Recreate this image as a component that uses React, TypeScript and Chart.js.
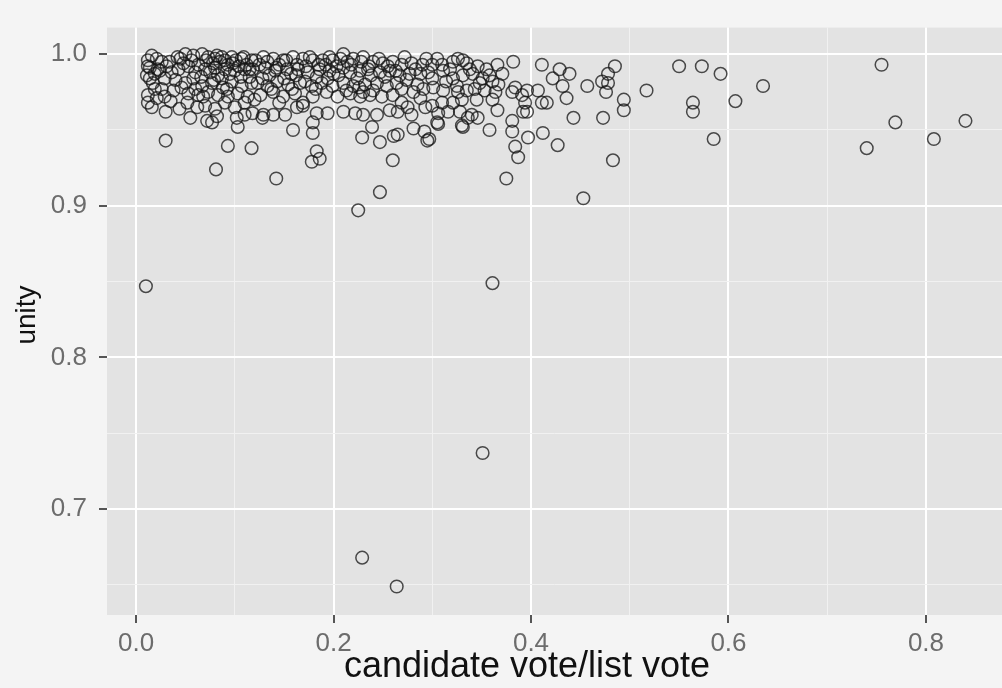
import React, { useEffect, useRef } from "react";
import { Chart, registerables } from "chart.js";

Chart.register(...registerables);

// Axis breaks (major carry labels, minor only get a light grid line)
const xTicks = [0, 0.2, 0.4, 0.6, 0.8];
const xMinor = [0.1, 0.3, 0.5, 0.7];
const yTicks = [0.7, 0.8, 0.9, 1.0];
const yMinor = [0.65, 0.75, 0.85, 0.95];
const xRange = [-0.0294, 0.877];
const yRange = [0.6302, 1.0175];
const xTitle = "candidate vote/list vote";
const yTitle = "unity";

// candidate vote / list vote  vs  unity
const leftCluster: [number, number][] = [
  [0.012, 0.996], [0.021, 0.997], [0.026, 0.995], [0.014, 0.991], [0.022, 0.99],
  [0.031, 0.992], [0.011, 0.986], [0.019, 0.987], [0.029, 0.984], [0.017, 0.981],
  [0.026, 0.977], [0.012, 0.973], [0.021, 0.971], [0.029, 0.972], [0.012, 0.968],
  [0.016, 0.965], [0.014, 0.984], [0.024, 0.989], [0.012, 0.992], [0.04, 0.983],
  [0.035, 0.969], [0.038, 0.976], [0.044, 0.964], [0.019, 0.977], [0.03, 0.962],
  [0.016, 0.999], [0.034, 0.995], [0.036, 0.988], [0.046, 0.978],
];

const coreCluster: [number, number][] = [
  [0.042, 0.998], [0.05, 1.0], [0.067, 1.0], [0.073, 0.998], [0.08, 0.997],
  [0.087, 0.998], [0.097, 0.998], [0.107, 0.997], [0.117, 0.996], [0.043, 0.99],
  [0.053, 0.992], [0.06, 0.988], [0.07, 0.99], [0.08, 0.991], [0.09, 0.99],
  [0.1, 0.989], [0.11, 0.99], [0.05, 0.981], [0.058, 0.984], [0.067, 0.979],
  [0.077, 0.981], [0.087, 0.984], [0.097, 0.982], [0.107, 0.979], [0.117, 0.981],
  [0.053, 0.974], [0.063, 0.973], [0.073, 0.975], [0.083, 0.973], [0.093, 0.972],
  [0.103, 0.974], [0.113, 0.972], [0.052, 0.968], [0.062, 0.965], [0.07, 0.966],
  [0.08, 0.964], [0.09, 0.968], [0.1, 0.965], [0.11, 0.968], [0.118, 0.961],
  [0.055, 0.958], [0.072, 0.956], [0.077, 0.955], [0.082, 0.959], [0.102, 0.958],
  [0.103, 0.952], [0.11, 0.96], [0.128, 0.958], [0.139, 0.96],
  [0.048, 0.994], [0.056, 0.996], [0.063, 0.993], [0.078, 0.994], [0.085, 0.995],
  [0.093, 0.993], [0.101, 0.996], [0.104, 0.992], [0.095, 0.987], [0.083, 0.986],
  [0.066, 0.985], [0.075, 0.988], [0.106, 0.985], [0.112, 0.993], [0.125, 0.993],
  [0.135, 0.986], [0.145, 0.993], [0.157, 0.987], [0.172, 0.992], [0.183, 0.985],
  [0.192, 0.993], [0.205, 0.986], [0.214, 0.995], [0.224, 0.984], [0.238, 0.986],
  [0.213, 0.976], [0.23, 0.975], [0.158, 0.977], [0.145, 0.968], [0.12, 0.97],
  [0.088, 0.978], [0.06, 0.977],
  [0.045, 0.997], [0.058, 0.999], [0.071, 0.996], [0.082, 0.999], [0.09, 0.996],
  [0.098, 0.994], [0.109, 0.998], [0.115, 0.99], [0.068, 0.972], [0.079, 0.983],
  [0.092, 0.977], [0.115, 0.985],
];

const midCluster: [number, number][] = [
  [0.121, 0.996], [0.129, 0.998], [0.139, 0.997], [0.149, 0.996], [0.159, 0.998],
  [0.169, 0.997], [0.179, 0.996], [0.189, 0.996], [0.199, 0.996], [0.21, 1.0],
  [0.22, 0.997], [0.23, 0.998], [0.24, 0.995], [0.25, 0.994], [0.26, 0.995],
  [0.118, 0.99], [0.131, 0.991], [0.141, 0.989], [0.153, 0.99], [0.164, 0.99],
  [0.174, 0.988], [0.186, 0.99], [0.196, 0.989], [0.21, 0.991], [0.217, 0.988],
  [0.227, 0.989], [0.235, 0.99], [0.247, 0.988], [0.257, 0.989], [0.123, 0.981],
  [0.133, 0.979], [0.143, 0.982], [0.154, 0.98], [0.166, 0.981], [0.178, 0.979],
  [0.188, 0.981], [0.199, 0.979], [0.21, 0.981], [0.22, 0.979], [0.232, 0.98],
  [0.244, 0.981], [0.254, 0.979], [0.264, 0.981], [0.126, 0.973], [0.139, 0.975],
  [0.149, 0.972], [0.161, 0.974], [0.169, 0.968], [0.179, 0.972], [0.193, 0.975],
  [0.204, 0.972], [0.217, 0.974], [0.227, 0.972], [0.237, 0.973], [0.249, 0.972],
  [0.26, 0.973], [0.129, 0.96], [0.151, 0.96], [0.163, 0.965], [0.169, 0.966],
  [0.222, 0.961], [0.23, 0.96], [0.244, 0.96], [0.257, 0.963],
  [0.133, 0.995], [0.142, 0.991], [0.152, 0.996], [0.163, 0.993], [0.176, 0.998],
  [0.185, 0.993], [0.196, 0.998], [0.203, 0.992], [0.207, 0.997], [0.218, 0.993],
  [0.228, 0.995], [0.236, 0.992], [0.246, 0.997], [0.255, 0.992], [0.128, 0.984],
  [0.137, 0.977], [0.15, 0.984], [0.162, 0.986], [0.171, 0.982], [0.182, 0.977],
  [0.194, 0.984], [0.2, 0.987], [0.226, 0.978], [0.24, 0.976], [0.252, 0.985],
];

const rightCluster: [number, number][] = [
  [0.269, 0.993], [0.279, 0.994], [0.29, 0.993], [0.3, 0.993], [0.321, 0.995],
  [0.335, 0.994], [0.346, 0.992], [0.355, 0.99], [0.267, 0.986], [0.277, 0.987],
  [0.288, 0.987], [0.3, 0.984], [0.311, 0.989], [0.321, 0.984], [0.331, 0.986],
  [0.341, 0.987], [0.351, 0.984], [0.361, 0.982], [0.367, 0.98], [0.384, 0.978],
  [0.396, 0.976], [0.407, 0.976], [0.269, 0.977], [0.281, 0.975], [0.291, 0.977],
  [0.301, 0.978], [0.311, 0.976], [0.325, 0.979], [0.335, 0.976], [0.343, 0.977],
  [0.353, 0.976], [0.364, 0.975], [0.381, 0.975], [0.391, 0.973], [0.394, 0.968],
  [0.411, 0.968], [0.269, 0.968], [0.275, 0.965], [0.288, 0.971], [0.3, 0.966],
  [0.31, 0.968], [0.321, 0.968], [0.33, 0.97], [0.345, 0.97], [0.361, 0.97],
  [0.265, 0.962], [0.279, 0.96], [0.293, 0.965], [0.306, 0.961], [0.316, 0.962],
  [0.328, 0.962], [0.34, 0.96], [0.392, 0.962], [0.305, 0.955], [0.265, 0.947],
  [0.263, 0.989], [0.272, 0.998], [0.283, 0.99], [0.294, 0.997], [0.31, 0.993],
  [0.318, 0.99], [0.326, 0.997], [0.338, 0.99], [0.274, 0.983], [0.285, 0.98],
  [0.296, 0.988], [0.314, 0.982], [0.326, 0.975], [0.348, 0.981], [0.358, 0.986],
];

const scattered: [number, number][] = [
  [0.03, 0.943], [0.093, 0.9395], [0.117, 0.938], [0.081, 0.924], [0.142, 0.918],
  [0.159, 0.95], [0.179, 0.955], [0.179, 0.948], [0.183, 0.936], [0.178, 0.929],
  [0.186, 0.931], [0.194, 0.961], [0.21, 0.962], [0.183, 0.961], [0.225, 0.897],
  [0.247, 0.909], [0.26, 0.93], [0.229, 0.945], [0.247, 0.942], [0.261, 0.946],
  [0.239, 0.952], [0.281, 0.951], [0.292, 0.949], [0.297, 0.944], [0.295, 0.943],
  [0.306, 0.954], [0.33, 0.953], [0.331, 0.952], [0.346, 0.958], [0.336, 0.958],
  [0.358, 0.95], [0.366, 0.963], [0.381, 0.956], [0.381, 0.949], [0.384, 0.939],
  [0.387, 0.932], [0.375, 0.918], [0.397, 0.945], [0.412, 0.948], [0.427, 0.94],
  [0.396, 0.962], [0.416, 0.968], [0.443, 0.958], [0.436, 0.971], [0.305, 0.997],
  [0.331, 0.996], [0.382, 0.995], [0.411, 0.993], [0.429, 0.99], [0.439, 0.987],
  [0.422, 0.984], [0.432, 0.979], [0.366, 0.993], [0.371, 0.987], [0.485, 0.992],
  [0.478, 0.987], [0.472, 0.982], [0.478, 0.981], [0.476, 0.975], [0.457, 0.979],
  [0.494, 0.97], [0.494, 0.963], [0.517, 0.976], [0.55, 0.992], [0.573, 0.992],
  [0.592, 0.987], [0.564, 0.968], [0.564, 0.962], [0.607, 0.969], [0.635, 0.979],
  [0.473, 0.958], [0.585, 0.944], [0.483, 0.93], [0.453, 0.905], [0.755, 0.993],
  [0.769, 0.955], [0.74, 0.938], [0.808, 0.944], [0.84, 0.956],
];

const outliers: [number, number][] = [
  [0.01, 0.847], [0.361, 0.849], [0.351, 0.737], [0.229, 0.668], [0.264, 0.649],
];

const allPoints = [
  ...leftCluster,
  ...coreCluster,
  ...midCluster,
  ...rightCluster,
  ...scattered,
  ...outliers,
].map(([x, y]) => ({ x, y }));

const PANEL_BG = "#e3e3e3";
const PAGE_BG = "#f4f4f4";
const TICK_TEXT = "#6c6c6c";
const TITLE_TEXT = "#111111";
const FONT = "'Liberation Sans', Arial, Helvetica, sans-serif";

const panelBackground = {
  id: "panelBackground",
  beforeDraw(chart: any) {
    const { ctx, chartArea } = chart;
    if (!chartArea) return;
    ctx.save();
    ctx.fillStyle = PANEL_BG;
    ctx.fillRect(chartArea.left, chartArea.top, chartArea.right - chartArea.left, chartArea.bottom - chartArea.top);
    ctx.restore();
  },
};

// Axis captions: x centred under the 0.4 break, y rotated beside the panel
const axisCaptions = {
  id: "axisCaptions",
  afterDraw(chart: any) {
    const { ctx } = chart;
    const x = chart.scales.x.getPixelForValue(0.4) - 4;
    ctx.save();
    ctx.fillStyle = TITLE_TEXT;
    ctx.textAlign = "center";
    ctx.textBaseline = "alphabetic";
    ctx.font = `36px ${FONT}`;
    ctx.fillText(xTitle, x, 677);
    ctx.translate(35, chart.scales.y.getPixelForValue(0.828));
    ctx.rotate(-Math.PI / 2);
    ctx.font = `28px ${FONT}`;
    ctx.fillText(yTitle, 0, 0);
    ctx.restore();
  },
};

function isMajor(list: number[], v: number) {
  return list.some((t) => Math.abs(t - v) < 1e-9);
}

function axisOptions(major: number[], minor: number[], range: number[], horizontal: boolean) {
  return {
    type: "linear" as const,
    min: range[0],
    max: range[1],
    afterBuildTicks(scale: any) {
      scale.ticks = [...major, ...minor].sort((a, b) => a - b).map((value) => ({ value }));
    },
    afterFit(scale: any) {
      if (horizontal) scale.height = 73;
      else scale.width = 107;
    },
    border: { display: false },
    grid: {
      drawTicks: true,
      tickLength: 8,
      color: (ctx: any) => (isMajor(major, ctx.tick?.value) ? "#ffffff" : "#f1f1f1"),
      lineWidth: (ctx: any) => (isMajor(major, ctx.tick?.value) ? 2 : 1),
      tickColor: (ctx: any) => (isMajor(major, ctx.tick?.value) ? "#555555" : "rgba(0,0,0,0)"),
      tickWidth: 2,
    },
    ticks: {
      autoSkip: false,
      maxRotation: 0,
      padding: horizontal ? 5 : 12,
      color: TICK_TEXT,
      font: { family: FONT, size: 26 },
      callback: (value: number) => (isMajor(major, value) ? value.toFixed(1) : ""),
    },
    title: { display: false },
  };
}

export default function App() {
  const canvasRef = useRef<HTMLCanvasElement | null>(null);

  useEffect(() => {
    if (!canvasRef.current) return;
    const chart = new Chart(canvasRef.current, {
      type: "scatter",
      data: {
        datasets: [
          {
            data: allPoints,
            pointStyle: "circle",
            pointRadius: 6.3,
            pointBorderWidth: 1.5,
            pointBackgroundColor: "rgba(0,0,0,0)",
            pointBorderColor: "rgba(20,20,20,0.75)",
          },
        ],
      },
      options: {
        responsive: false,
        animation: false,
        layout: { autoPadding: false, padding: { left: 0, right: 0, top: 10, bottom: 0 } },
        plugins: {
          legend: { display: false },
          tooltip: { enabled: false },
        },
        scales: {
          x: axisOptions(xTicks, xMinor, xRange, true),
          y: axisOptions(yTicks, yMinor, yRange, false),
        },
      },
      plugins: [panelBackground, axisCaptions],
    });
    return () => chart.destroy();
  }, []);

  return (
    <div
      style={{
        position: "absolute",
        left: 0,
        top: 0,
        width: 1002,
        height: 688,
        background: PAGE_BG,
        overflow: "hidden",
      }}
    >
      <canvas ref={canvasRef} width={1002} height={688} style={{ display: "block" }} />
    </div>
  );
}
